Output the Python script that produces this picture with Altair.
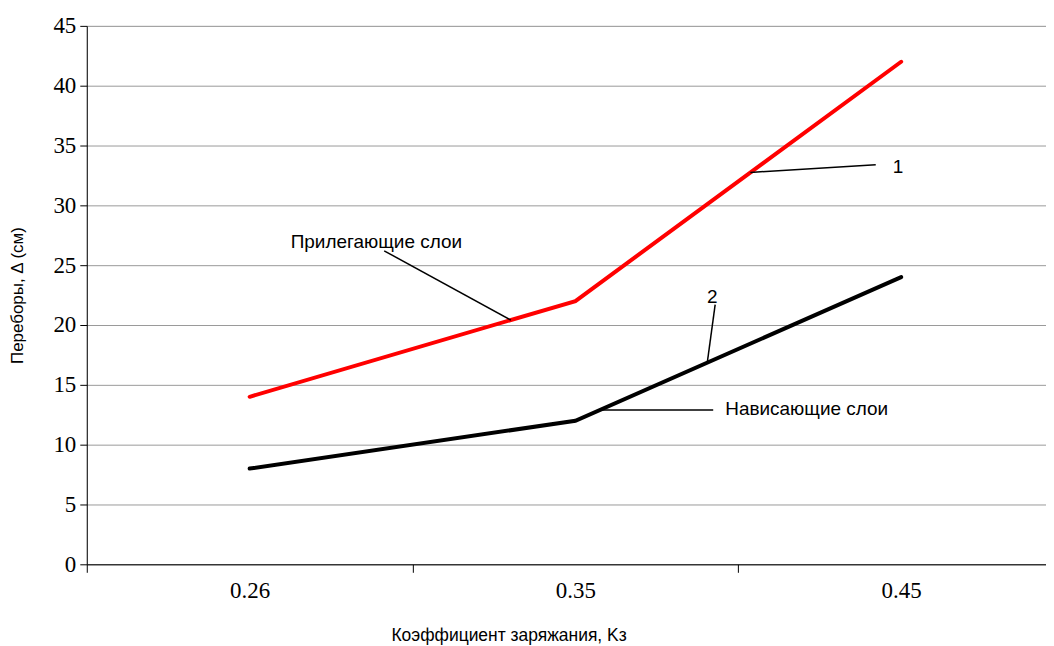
import json
import altair as alt
import pandas as pd

# Data
categories = ["0.26", "0.35", "0.45"]
red_values = [14, 22, 42]     # 1 — Прилегающие слои
black_values = [8, 12, 24]    # 2 — Нависающие слои

# annotation texts and their anchor points (in data coordinates: category index, value)
ann_text = ["Прилегающие слои", "1", "2", "Нависающие слои"]
ann_x = [0.389, 1.99, 1.42, 1.46]
ann_y = [26.9, 33.2, 22.3, 13.0]
ann_align = ["center", "center", "center", "left"]

# leader lines (start -> end in data coordinates)
lead_x = [0.413, 1.537, 1.429, 1.071]
lead_y = [26.2, 32.75, 21.7, 12.9]
lead_x2 = [0.802, 1.922, 1.405, 1.423]
lead_y2 = [20.4, 33.4, 16.9, 12.9]

idx = list(range(len(categories)))
lines_df = pd.DataFrame({
    "i": idx * 2,
    "v": red_values + black_values,
    "s": ["1"] * 3 + ["2"] * 3,
})
ann_df = pd.DataFrame({"x": ann_x, "y": ann_y, "t": ann_text, "a": ann_align})
lead_df = pd.DataFrame({"x": lead_x, "y": lead_y, "x2": lead_x2, "y2": lead_y2})

W, H = 962, 540
unit = 326.7
xmax = -0.5 + W / unit

xscale = alt.Scale(domain=[-0.5, xmax], nice=False, zero=False)
yscale = alt.Scale(domain=[0, 45], nice=False)

label_expr = json.dumps(categories) + "[datum.value + 0.5]"

xaxis = alt.Axis(
    values=[-0.5, 0.5, 1.5], labelExpr=label_expr, labelOffset=unit / 2,
    grid=False, tickSize=8, tickColor="black", domainColor="black",
    labelFont="Liberation Serif", labelFontSize=23, labelColor="black",
    labelPadding=7, labelAlign="center", labelFlush=False, labelOverlap=False,
    title="Коэффициент заряжания, Kз", titleFont="Liberation Sans",
    titleFontSize=17.5, titleFontWeight="normal", titleColor="black",
    titleX=423, titleY=71, titleBaseline="middle", titleAlign="center",
)
yaxis = alt.Axis(
    values=list(range(0, 46, 5)), grid=True, gridColor="#9a9a9a", gridWidth=1,
    tickSize=7, tickColor="black", domainColor="black",
    labelFont="Liberation Serif", labelFontSize=23, labelColor="black",
    labelPadding=4, labelFlush=False,
    title="Переборы, Δ (см)", titleFont="Liberation Sans",
    titleFontSize=17, titleFontWeight="normal", titleColor="black",
    titleX=-69, titleY=H / 2, titleAngle=-90, titleBaseline="middle",
    titleAlign="center",
)

lines = alt.Chart(lines_df).mark_line(strokeWidth=4, strokeCap="round").encode(
    x=alt.X("i:Q", scale=xscale, axis=xaxis),
    y=alt.Y("v:Q", scale=yscale, axis=yaxis),
    color=alt.Color("s:N", scale=alt.Scale(domain=["1", "2"], range=["#ff0000", "#000000"]), legend=None),
)

leaders = alt.Chart(lead_df).mark_rule(color="black", strokeWidth=1.5).encode(
    x=alt.X("x:Q", scale=xscale), y=alt.Y("y:Q", scale=yscale),
    x2="x2:Q", y2="y2:Q",
)

texts_c = alt.Chart(ann_df[ann_df.a == "center"]).mark_text(
    font="Liberation Sans", fontSize=19, color="black", align="center", baseline="middle"
).encode(x=alt.X("x:Q", scale=xscale), y=alt.Y("y:Q", scale=yscale), text="t:N")
texts_l = alt.Chart(ann_df[ann_df.a == "left"]).mark_text(
    font="Liberation Sans", fontSize=19, color="black", align="left", baseline="middle"
).encode(x=alt.X("x:Q", scale=xscale), y=alt.Y("y:Q", scale=yscale), text="t:N")

chart = alt.layer(lines, leaders, texts_c, texts_l).properties(
    width=W, height=H,
    autosize=alt.AutoSizeParams(type="none"),
    padding={"left": 79, "top": 17, "right": 0, "bottom": 80},
).configure_view(stroke=None).configure(background="white")

chart.save("out.html", embed_options={"renderer": "svg", "actions": False})
